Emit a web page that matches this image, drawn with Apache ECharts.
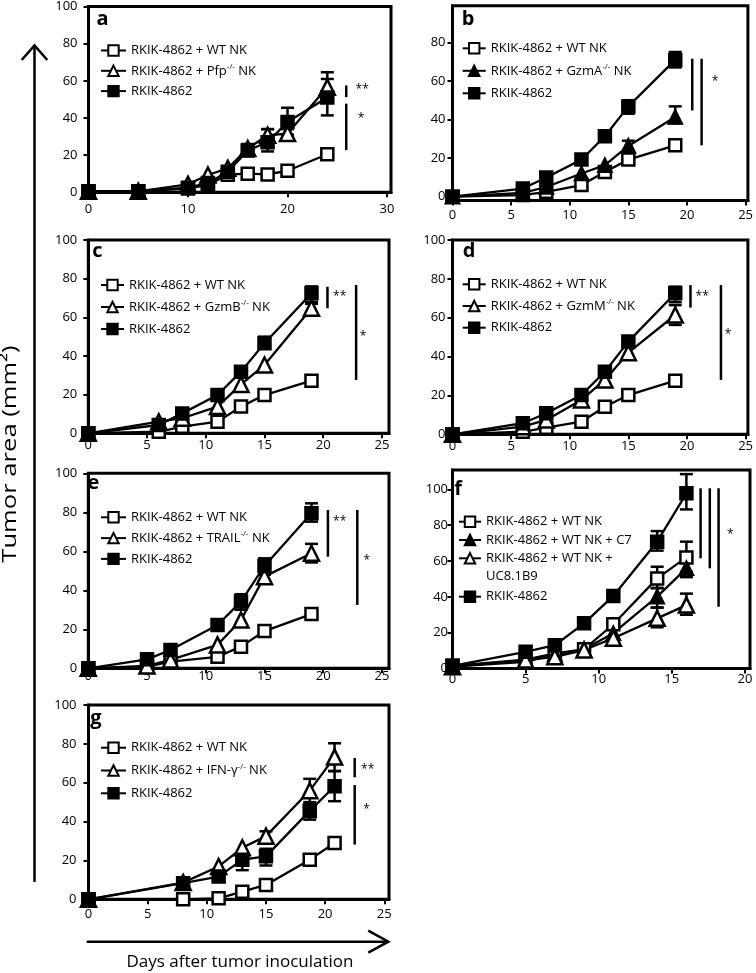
<!DOCTYPE html>
<html><head><meta charset="utf-8">
<script src="https://cdn.jsdelivr.net/npm/echarts@6/dist/echarts.min.js"></script>
<style>html,body{margin:0;padding:0;background:#fff}#c{width:756px;height:973px}</style>
</head><body><div id="c"></div>
<script>
// ---------------- DATA ----------------
const N_WT = 'RKIK-4862 + WT NK';
const N_RK = 'RKIK-4862';
const N_PFP = 'RKIK-4862 + Pfp-/- NK';
const N_GZMA = 'RKIK-4862 + GzmA-/- NK';
const N_GZMB = 'RKIK-4862 + GzmB-/- NK';
const N_GZMM = 'RKIK-4862 + GzmM-/- NK';
const N_TRAIL = 'RKIK-4862 + TRAIL-/- NK';
const N_IFN = 'RKIK-4862 + IFN-\u03b3-/- NK';
const N_C7 = 'RKIK-4862 + WT NK + C7';
const N_UC = 'RKIK-4862 + WT NK + UC8.1B9';

const xTicksA = [0, 10, 20, 30];
const xTicks25 = [0, 5, 10, 15, 20, 25];
const xTicksF = [0, 5, 10, 15, 20];
const yTicks100 = [0, 20, 40, 60, 80, 100];
const yTicksB = [0, 20, 40, 60, 80];

// panel a
const xA = [0, 5, 10, 12, 14, 16, 18, 20, 24];
const aWT = [0.5, 0.5, 2, 4, 9.5, 10, 9.6, 11.6, 20.5];
const aPfp = [0.5, 0.5, 4.3, 9.3, 12.9, 23.6, 30.7, 31.6, 56.6];
const aRK = [0.5, 0.5, 2.5, 5, 11, 22.5, 27, 37.8, 51];
const aWTerr = [null, null, null, null, null, null, null, null, [18, 23]];
const aPfpErr = [null, null, null, null, null, [21, 26], [27, 34], [30, 34], [52, 64.6]];
const aRKerr = [null, null, null, null, null, [20, 25], [22, 34], [31, 45.5], [41.4, 61]];
const aBars = [[25.9, 57.5, 51.2], [25.9, 47.7, 22.7]];
const aStars = [[27.5, 55.2, '**'], [27.4, 39.7, '*']];

// panel b
const xB = [0, 6, 8, 11, 13, 15, 19];
const bWT = [0, 0.8, 2.5, 6, 12.8, 19.2, 26.6];
const bGzmA = [0, 2, 5, 12, 16.3, 26.3, 41.3];
const bRK = [0, 4.2, 9.9, 19.2, 31.3, 46.8, 70.9];
const bWTerr = [null, null, null, null, null, [17, 22], null];
const bGzmAerr = [null, null, null, null, null, [23, 29], [38, 46.8]];
const bRKerr = [null, null, null, null, null, [43, 50], [67, 75]];
const bBars = [[20.45, 71.5, 44.7], [21.25, 71.5, 26.6]];
const bStars = [[22.4, 59.4, '*']];

// panel c
const xC = [0, 6, 8, 11, 13, 15, 19];
const cWT = [0, 0.8, 3.4, 6, 13.8, 19.8, 27.2];
const cGzmB = [0, 6, 7.8, 13.8, 25.3, 35.3, 64.7];
const cRK = [0, 4.3, 10.3, 19.8, 31.9, 46.6, 72.4];
const cWTerr = [null, null, null, null, null, null, null];
const cGzmBerr = [null, null, null, null, null, null, [62, 67]];
const cRKerr = [null, null, null, null, null, [44, 50], [68, 76]];
const cBars = [[20.36, 75.8, 64.7], [22.8, 76.7, 27.6]];
const cStars = [[21.4, 70.7, '**'], [23.4, 50, '*']];

// panel d
const xD = [0, 6, 8, 11, 13, 15, 19];
const dWT = [0, 1.3, 3.4, 6.5, 14.2, 20.2, 27.6];
const dGzmM = [0, 3.9, 7.4, 17.7, 28, 42, 61.4];
const dRK = [0, 5.7, 10.8, 20.2, 32.2, 47.7, 72.6];
const dWTerr = [null, null, null, null, null, null, null];
const dGzmMerr = [null, null, null, null, null, null, [56.3, 66.5]];
const dRKerr = [null, null, null, null, null, [45, 50], [68, 76]];
const dBars = [[20.3, 76.8, 65.2], [22.9, 76.8, 28]];
const dStars = [[21.3, 70.8, '**'], [23.5, 51.1, '*']];

// panel e
const xE = [0, 5, 7, 11, 13, 15, 19];
const eWT = [0, 0.8, 3.4, 5.9, 11.1, 19.1, 27.8];
const eTRAIL = [0, 1.2, 4.3, 12, 24.8, 47, 59];
const eRK = [0, 4.6, 9.4, 22.2, 34.2, 52.5, 79.5];
const eWTerr = [null, null, null, null, null, null, null];
const eTRAILerr = [null, null, null, null, null, null, [54.3, 63.8]];
const eRKerr = [null, null, null, null, [30, 38], [48, 56.4], [75.2, 84.6]];
const eBars = [[20.4, 81.2, 57.2], [22.9, 81.2, 32.5]];
const eStars = [[21.4, 75.2, '**'], [23.7, 55, '*']];

// panel f
const xF = [0, 5, 7, 9, 11, 14, 16];
const fWT = [1.5, 5, 8.4, 10.7, 24.7, 50.3, 62];
const fC7 = [1, 3.7, 7.9, 10.7, 19.7, 40.1, 55.9];
const fUC = [1, 4.7, 6.5, 10.3, 16.9, 28, 35.4];
const fRK = [1.5, 9.3, 13, 25.2, 40.5, 70.8, 97.8];
const fWTerr = [null, null, null, null, null, [44.8, 56.8], [54, 70.8]];
const fC7err = [null, null, null, null, null, [34, 45], [51, 60]];
const fUCerr = [null, null, null, null, null, [23, 34], [30, 41.8]];
const fRKerr = [null, null, null, null, null, [65.8, 76.7], [88.8, 108.5]];
const fBars = [[16.97, 100.6, 61.5], [17.6, 100.6, 55.9], [18.2, 100.6, 34.5]];
const fStars = [[19.0, 74.5, '*']];

// panel g
const xG = [0, 8, 11, 13, 15, 18.7, 20.8];
const gWT = [0, 0, 0.5, 3.9, 7.4, 20.4, 29];
const gIFN = [0, 8.6, 16.9, 26.5, 32.5, 55.9, 73.2];
const gRK = [0, 8.3, 11.7, 20.4, 22.1, 45.5, 58.2];
const gWTerr = [null, null, null, null, null, null, null];
const gIFNerr = [null, null, null, null, [29, 35], [50, 62], [66, 80.3]];
const gRKerr = [null, null, null, [15, 23.6], [17.4, 26], [41, 49], [50.5, 66]];
const gBars = [[22.5, 72.7, 62.8], [22.5, 58.8, 28.2]];
const gStars = [[23.6, 66.8, '**'], [23.5, 46.4, '*']];

// ---------------- STYLE / LAYOUT ----------------
const FONT = '"Open Sans", sans-serif';
const STY = {
  openSq: {symbol: 'rect', size: 12, fill: '#fff'},
  fillSq: {symbol: 'rect', size: 12, fill: '#000'},
  openTri: {symbol: 'triangle', size: 15, fill: '#fff'},
  fillTri: {symbol: 'triangle', size: 13, fill: '#000'}
};

const panels = [
  {letter: 'a', lx: 102.5, ly: 19.7,
   grid: {left: 88.5, top: 5.7, width: 302.5, height: 186.6}, xMax: 30.4, yMin: 0, yMax: 100,
   xTicks: xTicksA, yTicks: yTicks100, xm: 10.5, ym: 11,
   legends: [{left: 100, top: 42.5, gap: 4.3, w: 25, names: [N_WT, N_PFP, N_RK]}],
   x: xA, series: [[N_WT, aWT, aWTerr, 'openSq'], [N_PFP, aPfp, aPfpErr, 'openTri'], [N_RK, aRK, aRKerr, 'fillSq']],
   bars: aBars, stars: aStars},
  {letter: 'b', lx: 468, ly: 19.7,
   grid: {left: 452.5, top: 5.7, width: 296.8, height: 194.8}, xMax: 25.2, yMin: -2, yMax: 99,
   xTicks: xTicks25, yTicks: yTicksB, xm: 8, ym: 7,
   legends: [{left: 461.7, top: 40.3, gap: 6.5, w: 23, names: [N_WT, N_GZMA, N_RK]}],
   x: xB, series: [[N_WT, bWT, bWTerr, 'openSq'], [N_GZMA, bGzmA, bGzmAerr, 'fillTri'], [N_RK, bRK, bRKerr, 'fillSq']],
   bars: bBars, stars: bStars},
  {letter: 'c', lx: 97.5, ly: 251.3,
   grid: {left: 88.3, top: 240, width: 300.7, height: 193.3}, xMax: 25.6, yMin: 0, yMax: 100,
   xTicks: xTicks25, yTicks: yTicks100, xm: 5.5, ym: 11,
   legends: [{left: 100, top: 277, gap: 6, w: 23, names: [N_WT, N_GZMB, N_RK]}],
   x: xC, series: [[N_WT, cWT, cWTerr, 'openSq'], [N_GZMB, cGzmB, cGzmBerr, 'openTri'], [N_RK, cRK, cRKerr, 'fillSq']],
   bars: cBars, stars: cStars},
  {letter: 'd', lx: 469, ly: 251.3,
   grid: {left: 452.5, top: 240, width: 296.8, height: 194.3}, xMax: 25.2, yMin: 0, yMax: 100,
   xTicks: xTicks25, yTicks: yTicks100, xm: 5, ym: 7,
   legends: [{left: 461.7, top: 276.3, gap: 5.7, w: 23, names: [N_WT, N_GZMM, N_RK]}],
   x: xD, series: [[N_WT, dWT, dWTerr, 'openSq'], [N_GZMM, dGzmM, dGzmMerr, 'openTri'], [N_RK, dRK, dRKerr, 'fillSq']],
   bars: dBars, stars: dStars},
  {letter: 'e', lx: 93.3, ly: 483,
   grid: {left: 88.3, top: 473.3, width: 300.7, height: 195}, xMax: 25.6, yMin: 0, yMax: 100,
   xTicks: xTicks25, yTicks: yTicks100, xm: 1, ym: 11,
   legends: [{left: 100, top: 509.3, gap: 4.8, w: 25, names: [N_WT, N_TRAIL, N_RK]}],
   x: xE, series: [[N_WT, eWT, eWTerr, 'openSq'], [N_TRAIL, eTRAIL, eTRAILerr, 'openTri'], [N_RK, eRK, eRKerr, 'fillSq']],
   bars: eBars, stars: eStars},
  {letter: 'f', lx: 458, ly: 489.7,
   grid: {left: 452.5, top: 470, width: 297.5, height: 198.5}, xMax: 20.35, yMin: 0, yMax: 110.8,
   xTicks: xTicksF, yTicks: yTicks100, xm: 4.5, ym: 4.5,
   legends: [{left: 458, top: 513.7, gap: 2.3, w: 22, names: [N_WT, N_C7, N_UC]},
             {left: 458, top: 588.7, gap: 2.3, w: 22, names: [N_RK]}],
   x: xF, series: [[N_WT, fWT, fWTerr, 'openSq'], [N_C7, fC7, fC7err, 'fillTri'], [N_UC, fUC, fUCerr, 'openTri'], [N_RK, fRK, fRKerr, 'fillSq']],
   bars: fBars, stars: fStars},
  {letter: 'g', lx: 96, ly: 718,
   grid: {left: 88.5, top: 705, width: 300.5, height: 194.3}, xMax: 25.4, yMin: 0, yMax: 100,
   xTicks: xTicks25, yTicks: yTicks100, xm: 8, ym: 12,
   legends: [{left: 100, top: 739.7, gap: 6.8, w: 25, names: [N_WT, N_IFN, N_RK]}],
   x: xG, series: [[N_WT, gWT, gWTerr, 'openSq'], [N_IFN, gIFN, gIFNerr, 'openTri'], [N_RK, gRK, gRKerr, 'fillSq']],
   bars: gBars, stars: gStars}
];

function fmt(name) {
  if (name === N_UC) return '{n|RKIK-4862 + WT NK +}';
  const m = name.match(/^(.*?)(-\/-)( NK)$/);
  if (m) return '{n|' + m[1] + '}{s|-/-}{n|' + m[3] + '}';
  return '{n|' + name + '}';
}
const RICH = {
  n: {fontFamily: FONT, fontSize: 13, color: '#000', lineHeight: 16},
  s: {fontFamily: FONT, fontSize: 8, color: '#000', verticalAlign: 'top', lineHeight: 9}
};

const grids = [], xAxes = [], yAxes = [], series = [], legends = [], graphics = [];
const axisFont = {color: '#000', fontSize: 13, fontFamily: FONT};

panels.forEach((p, i) => {
  grids.push(Object.assign({show: true, borderColor: '#000', borderWidth: 3, backgroundColor: 'transparent'}, p.grid));
  xAxes.push({type: 'value', gridIndex: i, min: 0, max: p.xMax,
    axisLine: {show: true, onZero: false, lineStyle: {color: '#000', width: 3}},
    axisTick: {show: true, length: 5, lineStyle: {color: '#000', width: 2}, customValues: p.xTicks},
    axisLabel: Object.assign({customValues: p.xTicks, margin: p.xm}, axisFont),
    splitLine: {show: false}});
  yAxes.push({type: 'value', gridIndex: i, min: p.yMin, max: p.yMax,
    axisLine: {show: true, onZero: false, lineStyle: {color: '#000', width: 3}},
    axisTick: {show: true, length: 5, lineStyle: {color: '#000', width: 2}, customValues: p.yTicks},
    axisLabel: Object.assign({customValues: p.yTicks, margin: p.ym}, axisFont),
    splitLine: {show: false}});

  p.series.forEach(([name, ys, errs, sk]) => {
    const st = STY[sk];
    // error bars
    const ed = [];
    errs.forEach((e, k) => { if (e) ed.push([p.x[k], e[0], e[1]]); });
    series.push({type: 'custom', xAxisIndex: i, yAxisIndex: i, z: 1, silent: true, data: ed,
      encode: {x: 0, y: [1, 2]},
      renderItem: (params, api) => {
        const xv = api.value(0);
        const lo = api.coord([xv, api.value(1)]);
        const hi = api.coord([xv, api.value(2)]);
        const hw = 6.5, ls = {stroke: '#000', lineWidth: 2.5};
        return {type: 'group', children: [
          {type: 'line', shape: {x1: lo[0], y1: lo[1], x2: hi[0], y2: hi[1]}, style: ls},
          {type: 'line', shape: {x1: lo[0] - hw, y1: lo[1], x2: lo[0] + hw, y2: lo[1]}, style: ls},
          {type: 'line', shape: {x1: hi[0] - hw, y1: hi[1], x2: hi[0] + hw, y2: hi[1]}, style: ls}
        ]};
      }});
    series.push({type: 'line', name: name, xAxisIndex: i, yAxisIndex: i, z: 2, clip: false,
      data: p.x.map((xv, k) => [xv, ys[k]]),
      symbol: st.symbol, symbolSize: st.size,
      itemStyle: {color: st.fill, borderColor: '#000', borderWidth: 2.5, opacity: 1},
      lineStyle: {color: '#000', width: 2.3},
      emphasis: {disabled: true}, animation: false});
  });

  // significance bars
  series.push({type: 'custom', xAxisIndex: i, yAxisIndex: i, z: 3, silent: true, clip: false,
    data: p.bars, encode: {x: 0, y: [1, 2]},
    renderItem: (params, api) => {
      const xv = api.value(0);
      const a = api.coord([xv, api.value(1)]);
      const b = api.coord([xv, api.value(2)]);
      return {type: 'line', shape: {x1: a[0], y1: a[1], x2: b[0], y2: b[1]}, style: {stroke: '#000', lineWidth: 2.5}};
    }});
  const starTxt = p.stars.map(s => s[2]);
  series.push({type: 'custom', xAxisIndex: i, yAxisIndex: i, z: 3, silent: true, clip: false,
    data: p.stars.map(s => [s[0], s[1]]), encode: {x: 0, y: 1},
    renderItem: (params, api) => {
      const c = api.coord([api.value(0), api.value(1)]);
      return {type: 'text', x: c[0], y: c[1], style: {text: starTxt[params.dataIndex], font: '12px ' + FONT, fill: '#000',
        align: 'center', verticalAlign: 'middle', textAlign: 'center', textVerticalAlign: 'middle'}};
    }});

  p.legends.forEach(L => {
    legends.push({data: L.names, left: L.left, top: L.top, orient: 'vertical', padding: 0,
      itemWidth: L.w, itemHeight: 13, itemGap: L.gap, selectedMode: false,
      textStyle: {fontFamily: FONT, fontSize: 13, color: '#000', lineHeight: 16, rich: RICH},
      formatter: fmt});
  });

  graphics.push({type: 'text', x: p.lx, y: p.ly, silent: true,
    style: {text: p.letter, font: 'bold 20px ' + FONT, fill: '#000', align: 'center', verticalAlign: 'middle',
      textAlign: 'center', textVerticalAlign: 'middle'}});
});

const line = {stroke: '#000', lineWidth: 2.5, fill: null};
graphics.push(
  {type: 'text', x: 486, y: 576.7, silent: true,
   style: {text: 'UC8.1B9', font: '13px ' + FONT, fill: '#000', align: 'left', verticalAlign: 'middle', textAlign: 'left', textVerticalAlign: 'middle'}},
  {type: 'line', silent: true, shape: {x1: 34.5, y1: 46, x2: 34.5, y2: 882}, style: line},
  {type: 'polyline', silent: true, shape: {points: [[21.7, 60], [34.5, 45.5], [47.3, 60]]}, style: line},
  {type: 'line', silent: true, shape: {x1: 86.7, y1: 941.7, x2: 387, y2: 941.7}, style: line},
  {type: 'polyline', silent: true, shape: {points: [[368.3, 930.7], [388.3, 941.7], [368.3, 952.7]]}, style: line},
  {type: 'text', x: 240, y: 962.5, silent: true,
   style: {text: 'Days after tumor inoculation', font: '17px ' + FONT, fill: '#000', align: 'center', verticalAlign: 'middle', textAlign: 'center', textVerticalAlign: 'middle'}},
  {type: 'text', x: 10, y: 454, rotation: Math.PI / 2, scaleX: 1.28, silent: true,
   style: {text: 'Tumor area (mm\u00b2)', font: '20px ' + FONT, fill: '#000', align: 'center', verticalAlign: 'middle', textAlign: 'center', textVerticalAlign: 'middle'}}
);

const chart = echarts.init(document.getElementById('c'), null, {renderer: 'canvas'});
chart.setOption({
  animation: false,
  backgroundColor: '#fff',
  grid: grids, xAxis: xAxes, yAxis: yAxes, legend: legends, series: series, graphic: graphics
});
</script></body></html>
